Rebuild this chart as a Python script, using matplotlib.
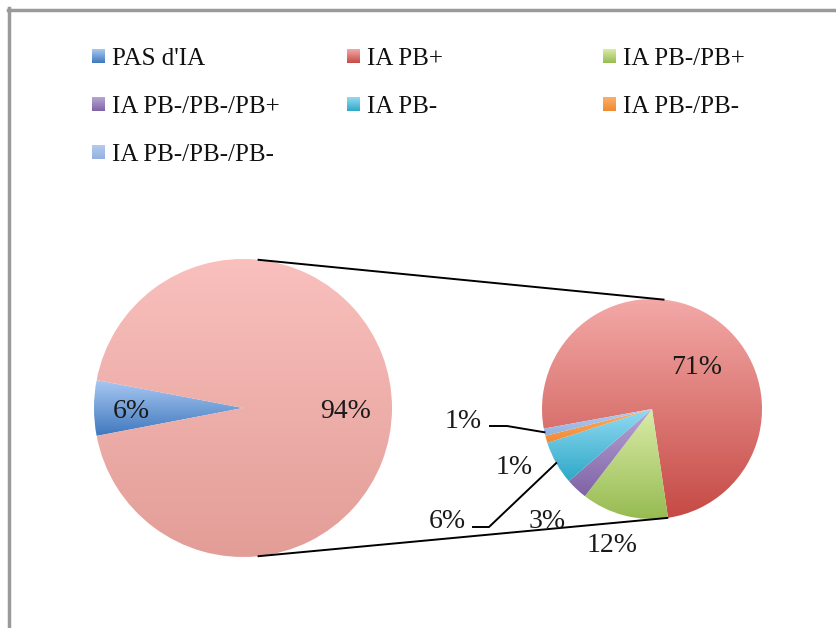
import numpy as np
import matplotlib.pyplot as plt
from matplotlib.colors import LinearSegmentedColormap
from matplotlib.patches import Rectangle

# categories and their share of all cases (%)
labels = ["PAS d'IA", "IA PB+", "IA PB-/PB+", "IA PB-/PB-/PB+",
          "IA PB-", "IA PB-/PB-", "IA PB-/PB-/PB-"]
pct = [6, 71, 12, 3, 6, 1, 1]

main_vals = [pct[0], sum(pct[1:])]   # no IA vs. all IA
sub_vals = pct[1:]                   # breakdown of the IA slice

# gradient colours (top, bottom) per category
grad = {
    "PAS d'IA": ("#a9c8f2", "#3f78bd"),
    "IA PB+": ("#f3a9a7", "#c64a45"),
    "IA PB-/PB+": ("#d9eca8", "#97bb52"),
    "IA PB-/PB-/PB+": ("#b8a6d4", "#7f63a6"),
    "IA PB-": ("#93dbf2", "#2ea8c8"),
    "IA PB-/PB-": ("#fbb06a", "#f08a32"),
    "IA PB-/PB-/PB-": ("#b4cbef", "#93b1e0"),
}
other_grad = ("#f9c0bd", "#e39d97")   # the aggregated IA slice

W, H = 837, 628
plt.rcParams['font.family'] = ['Liberation Serif', 'DejaVu Serif']

fig = plt.figure(figsize=(W / 100, H / 100), dpi=100)
ax = fig.add_axes([0, 0, 1, 1])


def Y(y):
    return H - y


def fill_gradient(patch, top, bottom):
    ext = patch.get_path().get_extents(patch.get_patch_transform())
    cmap = LinearSegmentedColormap.from_list('g', [bottom, top])
    grid = np.linspace(0, 1, 256).reshape(-1, 1)
    im = ax.imshow(grid, cmap=cmap, origin='lower', aspect='auto',
                   extent=[ext.x0, ext.x1, ext.y0, ext.y1], zorder=1)
    im.set_clip_path(patch)
    patch.set_facecolor('none')
    patch.set_edgecolor('none')


# main pie
c1, r1 = (243, Y(408)), 149
st1 = 180 + main_vals[0] * 3.6 / 2
w1, _ = ax.pie(main_vals, center=c1, radius=r1, startangle=st1,
               counterclock=False)
fill_gradient(w1[0], *grad[labels[0]])
fill_gradient(w1[1], *other_grad)

# secondary pie
c2, r2 = (652, Y(409)), 110
st2 = 190.3
w2, _ = ax.pie(sub_vals, center=c2, radius=r2, startangle=st2,
               counterclock=False)
for w, lab in zip(w2, labels[1:]):
    fill_gradient(w, *grad[lab])

# connector lines between the two pies
for a1, a2 in [(84, 84), (-84, -82)]:
    p1 = (c1[0] + r1 * np.cos(np.radians(a1)), c1[1] + r1 * np.sin(np.radians(a1)))
    p2 = (c2[0] + r2 * np.cos(np.radians(a2)), c2[1] + r2 * np.sin(np.radians(a2)))
    ax.plot([p1[0], p2[0]], [p1[1], p2[1]], color='black', lw=1.4, zorder=3)

lab_kw = dict(fontsize=20, color='#1a1a1a', ha='center', va='center', zorder=5)

# main pie labels
for v, pos in zip(main_vals, [(131, 412), (346, 412)]):
    ax.text(pos[0], Y(pos[1]), f"{v}%", **lab_kw)

# secondary pie labels
sub_pos = [(697, 368), (612, 546), (547, 522), (447, 522), (514, 468), (463, 422)]
for v, pos in zip(sub_vals, sub_pos):
    ax.text(pos[0], Y(pos[1]), f"{v}%", **lab_kw)


# leader lines for the crowded slices
def leader(wedge, elbow, end):
    mid = np.radians((wedge.theta1 + wedge.theta2) / 2)
    edge = (c2[0] + r2 * np.cos(mid), c2[1] + r2 * np.sin(mid))
    ax.plot([end[0], elbow[0], edge[0]], [Y(end[1]), Y(elbow[1]), edge[1]],
            color='black', lw=1.4, zorder=4)


leader(w2[3], (489, 527), (473, 527))   # IA PB-
leader(w2[5], (507, 426), (490, 426))   # IA PB-/PB-/PB-

# legend, three per row
col_x = [92, 347, 603]
row_y = [56, 104, 152]
for i, lab in enumerate(labels):
    x, y = col_x[i % 3], row_y[i // 3]
    box = Rectangle((x, Y(y) - 7), 13, 14, zorder=3)
    ax.add_patch(box)
    fill_gradient(box, *grad[lab])
    ax.text(x + 20, Y(y + 3), lab, fontsize=18, color='#111111',
            ha='left', va='center', zorder=5)

# chart frame
ax.plot([8, W], [Y(9.5), Y(9.5)], color='#9a9a9a', lw=2.5, zorder=6)
ax.plot([9.5, 9.5], [Y(8), 0], color='#9a9a9a', lw=2.5, zorder=6)

ax.set_xlim(0, W)
ax.set_ylim(0, H)
ax.set_aspect('equal')
ax.axis('off')

fig.savefig('out.png', dpi=100, facecolor='white')
